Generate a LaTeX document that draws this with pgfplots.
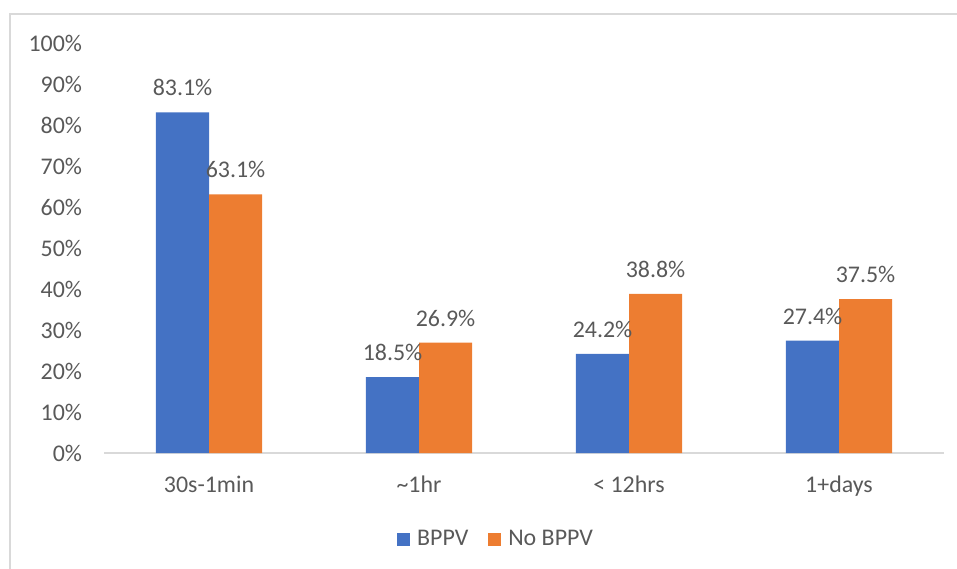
\documentclass[border=0pt]{standalone}
\usepackage{pgfplots}
\pgfplotsset{compat=1.18}
\usepackage{fontspec}
\setmainfont{Carlito}
\definecolor{bppv}{HTML}{4472C4}
\definecolor{nobppv}{HTML}{ED7D31}
\definecolor{txt}{HTML}{595959}
\definecolor{frame}{HTML}{D9D9D9}
\begin{document}
\begin{tikzpicture}
\useasboundingbox (0,0) rectangle (478.5bp,284.5bp);
% chart frame (only left and top edges inside the crop)
\draw[frame, line width=0.8bp] (5bp,0) -- (5bp,277.5bp) -- (478.5bp,277.5bp);
\begin{axis}[
    at={(52bp,58bp)}, anchor=south west,
    width=420bp, height=205bp, scale only axis,
    ybar=0pt, bar width=26.5bp,
    ymin=0, ymax=100,
    xmin=-0.5, xmax=3.5,
    xtick=data,
    xticklabels={30s-1min,\textasciitilde1hr,< 12hrs,1+days},
    ytick={0,10,...,100},
    yticklabel={\pgfmathprintnumber{\tick}\%},
    /pgf/number format/assume math mode=true,
    axis x line=bottom, axis y line=left,
    x axis line style={draw=frame, line width=0.8bp, -},
    y axis line style={draw=none},
    major tick length=0pt,
    font=\fontsize{12}{14}\selectfont,
    every tick label/.append style={text=txt},
    yticklabel style={anchor=east, xshift=-7.5bp},
    xticklabel style={anchor=north, yshift=-8bp},
    nodes near coords={\pgfmathprintnumber[fixed,precision=1,fixed zerofill]{\pgfplotspointmeta}\%},
    every node near coord/.append style={text=txt, anchor=south, inner sep=0pt, yshift=8bp},
    legend style={at={(0.4655,-0.21)}, anchor=center, draw=none, fill=none,
        legend columns=-1, text=txt,
        nodes={inner sep=0pt, anchor=west, text=txt}},
    legend image code/.code={\fill[#1] (0bp,-3.25bp) rectangle (6.5bp,3.25bp);},
    /tikz/every even column/.append style={column sep=10bp},
    legend cell align=left,
    clip=false,
]
\addplot[fill=bppv, draw=none] coordinates {(0,83.1) (1,18.5) (2,24.2) (3,27.4)};
\addplot[fill=nobppv, draw=none] coordinates {(0,63.1) (1,26.9) (2,38.8) (3,37.5)};
\legend{\hspace{3.5bp}BPPV,\hspace{3.5bp}No BPPV}
\end{axis}
\end{tikzpicture}
\end{document}
